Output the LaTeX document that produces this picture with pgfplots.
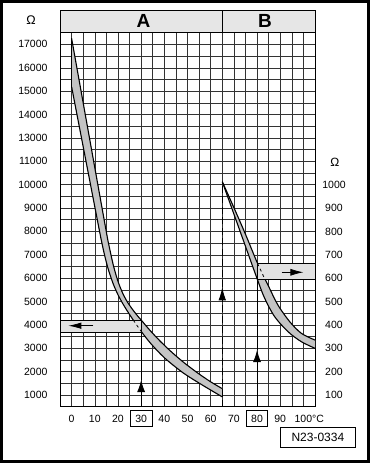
\documentclass[border=0pt]{standalone}
\usepackage{fontspec}
\setmainfont{Liberation Sans}
\usepackage{pgfplots}
\usepackage{pgfplotstable}
\pgfplotsset{compat=1.18}
\usepgfplotslibrary{fillbetween}
\usetikzlibrary{arrows.meta}
\definecolor{bandgray}{RGB}{196,196,196}
\definecolor{boxgray}{RGB}{226,226,226}
\definecolor{headgray}{RGB}{230,230,230}

% Curve A (axis units: tick 16000 is labelled 17000, as in the original)
\pgfplotstableread{
T Y
0 16260
7.4 12170
14.84 8059
16 7456
18 6556
20 5866
22 5366
24 4991
26 4700
28 4440
30 4209
34 3745
38 3325
42 2941
46 2589
50 2267
55 1899
60 1564
65 1270
}\Aupper
\pgfplotstableread{
T Y
0 14190
6 11110
11.95 8059
13 7538
14 7083
15 6678
16 6323
18 5743
20 5293
22 4923
24 4598
26 4295
28 4004
30 3726
34 3220
40 2596
48 1956
56 1450
65 920
}\Alower
% Curve B (right scale = axis/10)
\pgfplotstableread{
T Y
65 10126
70 9020
75 7880
80.2 6635
84.7 5706
89 4851
94.1 4136
99.1 3640
105 3350
}\Bupper
\pgfplotstableread{
T Y
65 10126
72.5 8055
80.12 5950
83.3 5137
87.6 4350
93.36 3709
99.1 3281
105 2998
}\Blower

\begin{document}
\begin{tikzpicture}[x=1pt,y=1pt]
\begin{axis}[
  at={(60pt,56.3pt)}, anchor=south west,
  scale only axis, width=255pt, height=374pt,
  xmin=-5, xmax=105, ymin=500, ymax=16500,
  scaled x ticks=false, scaled y ticks=false,
  xtick={0,10,...,100},
  xticklabels={0,10,20,30,40,50,60,70,80,90,100\rlap{°C}},
  minor xtick={-5,5,...,105},
  ytick={1000,2000,...,16000},
  yticklabels={1000,2000,3000,4000,5000,6000,7000,8000,9000,10000,11000,13000,14000,15000,16000,17000},
  minor ytick={500,1500,...,16500},
  grid=both,
  grid style={black!80, line width=0.5pt},
  minor grid style={black!80, line width=0.5pt},
  major tick length=0pt, minor tick length=0pt,
  axis line style={line width=0.9pt},
  tick label style={font=\fontsize{10.5}{12}\selectfont},
  /pgf/number format/assume math mode=true,
  xticklabel style={anchor=north, inner sep=0pt, yshift=-8pt},
  yticklabel style={anchor=east, inner sep=0pt, xshift=-12.3pt},
  clip=false,
]
% curve A band
\addplot[draw=none, name path=Au, smooth] table {\Aupper};
\addplot[draw=none, name path=Al, smooth] table {\Alower};
\addplot[bandgray] fill between[of=Au and Al];
\addplot[black, line width=1.1pt, smooth] table {\Aupper};
\addplot[black, line width=1.1pt, smooth] table {\Alower};
\addplot[black, line width=1.1pt] coordinates {(0,16260) (0,14190)};
\addplot[black, line width=1.1pt] coordinates {(65,1270) (65,920)};
% curve B band
\addplot[draw=none, name path=Bu, smooth] table {\Bupper};
\addplot[draw=none, name path=Bl, smooth] table {\Blower};
\addplot[bandgray] fill between[of=Bu and Bl];
\addplot[black, line width=1.1pt, smooth] table {\Bupper};
\addplot[black, line width=1.1pt, smooth] table {\Blower};
% reading band A
\addplot[fill=boxgray, draw=black, line width=0.8pt] coordinates {(-5,3696) (30,3696) (30,4209) (-5,4209)} -- cycle;
\addplot[black, dashed, line width=0.8pt, smooth] coordinates {(26.6,4209) (28,4004) (30,3726)};
\addplot[black, line width=0.8pt, -{Latex[length=13pt,width=6.5pt]}] coordinates {(9.4,3965) (-1.4,3965)};
% reading band B
\addplot[fill=boxgray, draw=black, line width=0.8pt] coordinates {(80,5950) (105,5950) (105,6635) (80,6635)} -- cycle;
\addplot[black, dashed, line width=0.8pt] coordinates {(80.2,6635) (83.4,5950)};
\addplot[black, line width=0.8pt, -{Latex[length=13pt,width=7pt]}] coordinates {(90.6,6250) (100,6250)};
% vertical lines
\addplot[black, line width=0.9pt, -{Latex[length=12pt,width=8pt]}] coordinates {(30,500) (30,1642)};
\addplot[black, line width=0.9pt] coordinates {(30,1642) (30,4209)};
\addplot[black, line width=0.9pt, -{Latex[length=12pt,width=8pt]}] coordinates {(80,500) (80,2925)};
\addplot[black, line width=0.9pt] coordinates {(80,2925) (80,6635)};
\addplot[black, line width=0.9pt, dash pattern=on 7pt off 3.5pt, -{Latex[length=13pt,width=7.5pt]}] coordinates {(65,500) (65,5608)};
\addplot[black, line width=0.9pt, dash pattern=on 7pt off 3.5pt] coordinates {(65,5608) (65,10126)};
% boxes around 30 and 80
\node[draw, line width=0.8pt, minimum width=22pt, minimum height=16pt, inner sep=0pt] at ([yshift=-11.6pt]axis cs:30,500) {};
\node[draw, line width=0.8pt, minimum width=21pt, minimum height=16pt, inner sep=0pt] at ([yshift=-11.6pt]axis cs:80,500) {};
% header
\draw[fill=headgray, line width=0.9pt] (axis cs:-5,16500) rectangle ([yshift=22.7pt]axis cs:105,16500);
\draw[line width=0.9pt] (axis cs:65,16500) -- ([yshift=22.7pt]axis cs:65,16500);
\node[font=\fontsize{19}{22}\selectfont\bfseries] at ([yshift=11.35pt]axis cs:31,16500) {A};
\node[font=\fontsize{19}{22}\selectfont\bfseries] at ([yshift=11.35pt]axis cs:83.4,16500) {B};
\end{axis}
\begin{axis}[
  at={(60pt,56.3pt)}, anchor=south west,
  scale only axis, width=255pt, height=374pt,
  xmin=-5, xmax=105, ymin=500, ymax=16500,
  scaled x ticks=false, scaled y ticks=false,
  hide x axis, axis y line*=right,
  axis line style={draw=none},
  ytick={1000,2000,...,10000},
  yticklabels={100,200,300,400,500,600,700,800,900,1000},
  major tick length=0pt,
  tick label style={font=\fontsize{10.5}{12}\selectfont},
  yticklabel style={anchor=center, inner sep=0pt, xshift=19pt},
]
\addplot[draw=none] coordinates {(0,1000) (100,10000)};
\end{axis}
\node[font=\fontsize{12.5}{14}\selectfont] at (31,442.5) {Ω};
\node[font=\fontsize{12}{14}\selectfont] at (334.8,300.5) {Ω};
\node[draw, line width=0.9pt, minimum width=74.3pt, minimum height=20pt, inner sep=0pt, font=\fontsize{12}{14}\selectfont] at (317.85,25.7) {N23-0334};
\draw[line width=2.6pt] (1.3,1.3) rectangle (368.7,461.7);
\pgfresetboundingbox
\path[use as bounding box] (0,0) rectangle (370,463);
\end{tikzpicture}
\end{document}
